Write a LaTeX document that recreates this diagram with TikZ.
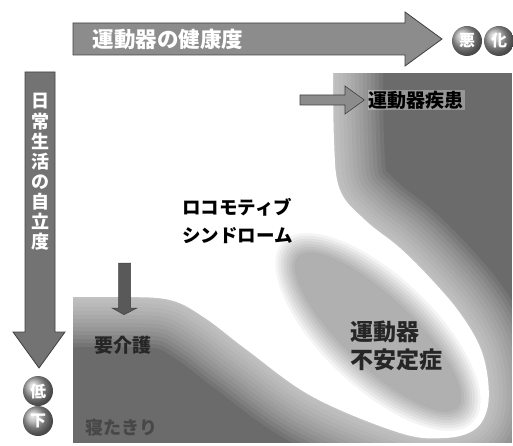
\documentclass[tikz,border=0pt]{standalone}
\usepackage{fontspec}
\newfontfamily\jp{Noto Sans CJK JP}
\usetikzlibrary{calc}
\begin{document}
\begin{tikzpicture}[x=1pt,y=-1pt,
  txt/.style={inner sep=0pt, font=\jp\bfseries\fontsize{#1}{#1}\selectfont},
  bigarrow/.style={fill=black!45, draw=black!75, line width=0.8pt},
  ball/.style={circle, minimum size=30pt, inner sep=0pt, shading=ball, ball color=black!35,
     text=white, font=\jp\bfseries\fontsize{16}{16}\selectfont},
]
\useasboundingbox (0,0) rectangle (513,446);
\def\solepath{(20,20) -- (333,20) -- plot[smooth, tension=0.6] coordinates {
 (333,40) (334,140) (340,190) (365,220) (400,248) (432,280) (460,313)
 (480,347) (488,380) (487,410) (474,430) (445,438) (400,433) (313,397)
 (247,350) (205,318) (170,300) (120,297) (73,297) (20,297)} -- cycle}
% ---- scene ----
\begin{scope}
  \clip (73,73) rectangle (512,443);
  \fill[black!58] (73,73) rectangle (512,443);
  \foreach \w in {100,92,...,4}
    \draw[white, line width=\w pt, opacity=0.07, line join=round] \solepath;
  \fill[white] \solepath;
  % inner ellipse (unstable locomotor)
  \foreach \k in {0,...,7}
    \fill[black, opacity=0.045, rotate around={-43.5:(378,332)}]
      (378,332) ellipse [x radius={131pt-3pt*\k}, y radius={56pt-3pt*\k}];
\end{scope}
% ---- top arrow ----
\draw[bigarrow] (73,23) -- (405,23) -- (405,12) -- (442,39) -- (405,66) -- (405,55) -- (73,55) -- cycle;
\node[txt=21.5, text=white] (health) at (168,39) {運動器の健康度};
\node[ball] (b1) at (467,41) {悪};
\node[ball] (b2) at (499,41) {化};
% ---- left arrow ----
\draw[bigarrow, fill=black!55] (25,72) -- (55,72) -- (55,332) -- (65,332) -- (39,368) -- (13,332) -- (25,332) -- cycle;
\node[inner sep=0pt, text=white, align=center, font=\jp\bfseries\fontsize{18}{20.1}\selectfont] (indep) at (40,172)
  {日\\常\\生\\活\\の\\自\\立\\度};
\node[ball] (b3) at (38,391) {低};
\node[ball] (b4) at (38,421) {下};
% ---- labels ----
\node[txt=19, fill=white, fill opacity=0.3, text opacity=1, inner sep=1pt] (disease) at (416,100) {運動器疾患};
\draw[fill=black!45, draw=black!75, line width=0.6pt]
  (300,95) -- (345,95) -- (345,86) -- ($(disease.west)+(-3,0)$) -- (345,114) -- (345,105) -- (300,105) -- cycle;
\node[anchor=west, align=left, inner sep=0pt, font=\jp\bfseries\fontsize{18.5}{28}\selectfont] (locomo) at (182,221)
  {ロコモティブ\\シンドローム};
\node[txt=19, text=black!85] (care) at (123,345) {要介護};
\draw[fill=black!65, draw=black!75, line width=0.5pt]
  (118.5,263) -- (130.5,263) -- (130.5,308) -- (137,308) -- ($(care.north)+(1,-21)$) -- (112,308) -- (118.5,308) -- cycle;
\node[txt=18, text=black!72] (bed) at (121,428) {寝たきり};
\node[anchor=west, align=left, inner sep=0pt, font=\jp\bfseries\fontsize{23}{28}\selectfont, text=black!85] (unstable) at (350,346)
  {運動器\\不安定症};
\end{tikzpicture}
\end{document}
